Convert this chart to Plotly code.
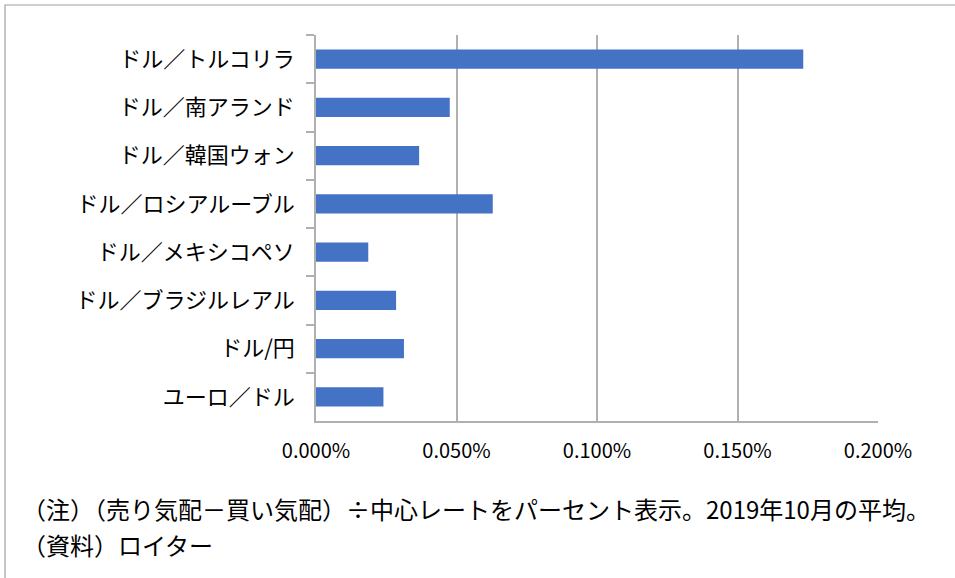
import plotly.graph_objects as go

categories = ["ドル／トルコリラ", "ドル／南アランド", "ドル／韓国ウォン", "ドル／ロシアルーブル",
              "ドル／メキシコペソ", "ドル／ブラジルレアル", "ドル/円", "ユーロ／ドル"]
values = [0.1734, 0.0476, 0.0367, 0.0629, 0.0186, 0.0285, 0.0313, 0.0240]
tick_vals = [0.0, 0.05, 0.10, 0.15, 0.20]
tick_text = ["0.000%", "0.050%", "0.100%", "0.150%", "0.200%"]
note1 = "（注）（売り気配－買い気配）÷中心レートをパーセント表示。2019年10月の平均。"
note2 = "（資料）ロイター"

FONT = "Noto Sans CJK JP"
GRID = "#b0b0b0"

fig = go.Figure(go.Bar(
    y=categories, x=values, orientation="h",
    marker=dict(color="#4472C4", line=dict(width=0)),
    width=0.4,
))

W, H = 955, 578
L, R, T, B = 316, 77, 35, 157
pw, ph = W - L - R, H - T - B

fig.update_layout(
    width=W, height=H,
    margin=dict(l=L, r=R, t=T, b=B, autoexpand=False),
    paper_bgcolor="white", plot_bgcolor="white",
    showlegend=False,
    font=dict(family=FONT, color="#000000"),
    xaxis=dict(range=[0, 0.2], tickvals=tick_vals, ticktext=tick_text,
               showgrid=True, gridcolor=GRID, gridwidth=1.5,
               showline=True, linecolor=GRID, linewidth=1.5,
               zeroline=False, ticks="", tickfont=dict(size=20, family=FONT),
               ticklabelstandoff=11, automargin=False, fixedrange=True),
    yaxis=dict(categoryorder="array", categoryarray=categories, autorange="reversed",
               showgrid=False, showline=True, linecolor=GRID, linewidth=1.5,
               ticks="outside", ticklen=8, tickcolor=GRID, tickwidth=1.5,
               tickson="boundaries", tickfont=dict(size=22, family=FONT),
               ticklabelstandoff=15, zeroline=False, automargin=False, fixedrange=True),
    shapes=[dict(type="rect", xref="paper", yref="paper",
                 x0=(5 - L) / pw, x1=(W + 10 - L) / pw,
                 y0=-(H + 10 - (T + ph)) / ph, y1=1 + (T - 5) / ph,
                 line=dict(color="#a0a0a0", width=1.2), fillcolor="rgba(0,0,0,0)",
                 layer="below")],
    annotations=[
        dict(text=note1, xref="paper", yref="paper", x=(20 - L) / pw, y=1 - (509 - T) / ph,
             xanchor="left", yanchor="middle", showarrow=False,
             font=dict(size=24, family=FONT, color="#000000")),
        dict(text=note2, xref="paper", yref="paper", x=(20 - L) / pw, y=1 - (544 - T) / ph,
             xanchor="left", yanchor="middle", showarrow=False,
             font=dict(size=24, family=FONT, color="#000000")),
    ],
)

fig.write_html("out.html", config={"displayModeBar": False},
               post_script="document.body.style.margin='0';document.body.style.overflow='hidden';")
